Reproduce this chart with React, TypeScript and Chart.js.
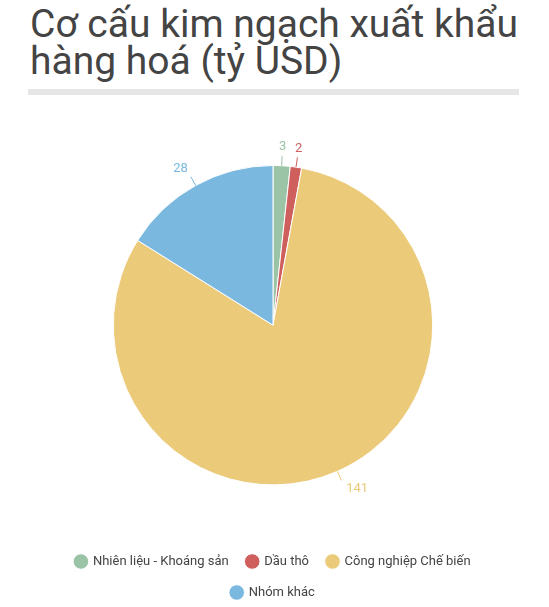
import React, { useEffect, useRef } from "react";
import { Chart, registerables } from "chart.js";

Chart.register(...registerables);

const categories = ["Nhiên liệu - Khoáng sản", "Dầu thô", "Công nghiệp Chế biến", "Nhóm khác"];
const values = [3, 2, 141, 28];
const colors = ["#9bc4a6", "#cf5f5d", "#ebca79", "#7ab8e0"];
const titleText = "Cơ cấu kim ngạch xuất khẩu hàng hoá (tỷ USD)";

const outLabels = {
  id: "outLabels",
  afterDatasetsDraw(chart: any) {
    const ctx = chart.ctx;
    const meta = chart.getDatasetMeta(0);
    ctx.save();
    ctx.font = "13px Roboto";
    ctx.lineWidth = 1;
    meta.data.forEach((arc: any, i: number) => {
      const { x, y, startAngle, endAngle, outerRadius } = arc.getProps(
        ["x", "y", "startAngle", "endAngle", "outerRadius"],
        true
      );
      const mid = (startAngle + endAngle) / 2;
      const cos = Math.cos(mid);
      const sin = Math.sin(mid);
      const r0 = outerRadius;
      const r1 = outerRadius + 10;
      const r2 = outerRadius + 19;
      const col = colors[i];
      ctx.strokeStyle = col;
      ctx.beginPath();
      ctx.moveTo(x + cos * r0, y + sin * r0);
      ctx.lineTo(x + cos * r1, y + sin * r1);
      ctx.stroke();
      ctx.fillStyle = col;
      ctx.textAlign = "center";
      ctx.textBaseline = "middle";
      const tx = x + cos * r2 + (cos > 0.3 ? 12 : cos < -0.3 ? -6 : 0);
      const ty = y + sin * r2;
      ctx.fillText(String(values[i]), tx, ty);
    });
    ctx.restore();
  },
};

export default function App() {
  const ref = useRef<HTMLCanvasElement>(null);
  useEffect(() => {
    const chart = new Chart(ref.current as HTMLCanvasElement, {
      type: "pie",
      data: {
        labels: categories,
        datasets: [
          {
            data: values,
            backgroundColor: colors,
            borderColor: "#ffffff",
            borderWidth: 1,
          },
        ],
      },
      options: {
        animation: false,
        responsive: false,
        maintainAspectRatio: false,
        layout: { padding: { top: 65, bottom: 0, left: 0, right: 0 } },
        plugins: {
          tooltip: { enabled: false },
          legend: {
            position: "bottom",
            title: {
              display: true,
              text: " ",
              padding: { top: 18, bottom: 18 },
              font: { family: "Roboto", size: 13 },
            },
            labels: {
              usePointStyle: true,
              pointStyle: "circle",
              boxWidth: 11,
              boxHeight: 11,
              padding: 18,
              color: "#444444",
              font: { family: "Roboto", size: 13 },
            },
          },
        },
      },
      plugins: [outLabels],
    });
    return () => chart.destroy();
  }, []);
  return (
    <div style={{ position: "absolute", left: 0, top: 0, width: 549, height: 607, background: "#fff", overflow: "hidden" }}>
      <div
        style={{
          position: "absolute",
          left: 30,
          top: 6,
          width: 500,
          fontFamily: "Roboto",
          fontSize: 39,
          lineHeight: "37px",
          color: "#444444",
        }}
      >
        {titleText}
      </div>
      <div style={{ position: "absolute", left: 28, top: 89, width: 491, height: 6, background: "#e6e6e6" }} />
      <canvas ref={ref} width={490} height={509} style={{ position: "absolute", left: 28, top: 100, width: 490, height: 509 }} />
    </div>
  );
}
